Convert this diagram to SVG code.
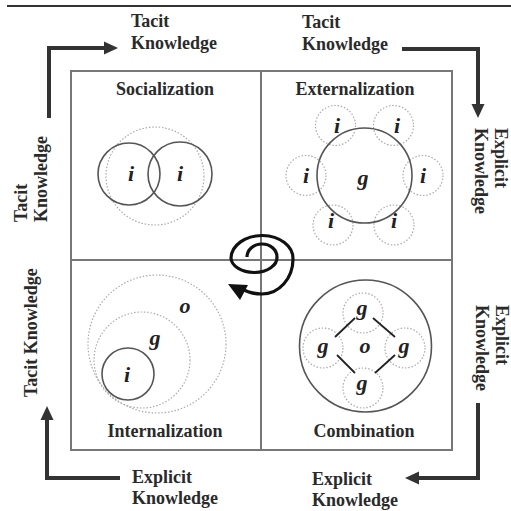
<svg xmlns="http://www.w3.org/2000/svg" width="511" height="511" viewBox="0 0 511 511">
<style>
.lbl{font-family:"Liberation Serif","Times New Roman",serif;font-weight:bold;font-size:18px;fill:#2a2a2a}
.ttl{font-family:"Liberation Serif","Times New Roman",serif;font-weight:bold;font-size:18px;fill:#2a2a2a;text-anchor:middle}
.it{font-family:"Liberation Serif","Times New Roman",serif;font-weight:bold;font-style:italic;font-size:22px;fill:#222;text-anchor:middle}
.solid{fill:none;stroke:#555;stroke-width:1.6}
.dot{fill:none;stroke:#aaa;stroke-width:1.2;stroke-dasharray:1.5 1.8}
.flow{fill:none;stroke:#333;stroke-width:4}
.head{fill:#333}
.grid{fill:none;stroke:#777;stroke-width:2}
</style>
<rect width="511" height="511" fill="#fff"/>
<line x1="7" y1="6" x2="511" y2="6" stroke="#333" stroke-width="2"/>

<g id="frame">
<rect x="71" y="71" width="381" height="379" class="grid"/>
<line x1="261" y1="71" x2="261" y2="450" class="grid"/>
<line x1="71" y1="260" x2="452" y2="260" class="grid"/>
</g>

<g id="connectors">
<path class="flow" d="M49 118 V48 H105"/>
<polygon class="head" points="118,48 104,41.5 104,54.5"/>
<path class="flow" d="M402 49 H478 V105"/>
<polygon class="head" points="478,118 471.5,104 484.5,104"/>
<path class="flow" d="M478 403 V478 H418"/>
<polygon class="head" points="405,478 419,471.5 419,484.5"/>
<path class="flow" d="M120 478 H47 V419"/>
<polygon class="head" points="47,406 40.5,420 53.5,420"/>
</g>

<g id="spiral">
<path fill="none" stroke="#111" stroke-width="3.2" d="M247 257 A15 13 0 0 1 277 257 A23 15 0 0 1 231 258 A31 23 0 0 1 293 259 A31 35 0 0 1 262 294 Q252 294 244 290"/>
<polygon fill="#111" points="228,284 248,285 240,300"/>
</g>

<g id="label-tl">
<text class="lbl" x="131" y="27">Tacit</text>
<text class="lbl" x="131" y="49">Knowledge</text>
</g>
<g id="label-tr">
<text class="lbl" x="302" y="28">Tacit</text>
<text class="lbl" x="302" y="50">Knowledge</text>
</g>
<g id="label-r1" transform="translate(495,128) rotate(90)">
<text class="lbl" x="0" y="0">Explicit</text>
<text class="lbl" x="0" y="20">Knowledge</text>
</g>
<g id="label-r2" transform="translate(496,305) rotate(90)">
<text class="lbl" x="0" y="0">Explicit</text>
<text class="lbl" x="0" y="20">Knowledge</text>
</g>
<g id="label-br">
<text class="lbl" x="312" y="485">Explicit</text>
<text class="lbl" x="312" y="506">Knowledge</text>
</g>
<g id="label-bl">
<text class="lbl" x="132" y="483">Explicit</text>
<text class="lbl" x="132" y="504">Knowledge</text>
</g>
<g id="label-l1" transform="translate(27,222) rotate(-90)">
<text class="lbl" x="0" y="0">Tacit</text>
<text class="lbl" x="0" y="20">Knowledge</text>
</g>
<g id="label-l2" transform="translate(37,397) rotate(-90)">
<text class="lbl" x="0" y="0">Tacit Knowledge</text>
</g>

<g id="socialization">
<text class="ttl" x="165" y="95">Socialization</text>
<circle class="dot" cx="155" cy="176" r="49"/>
<circle class="solid" cx="129" cy="174" r="31"/>
<circle class="solid" cx="180" cy="174" r="32"/>
<text class="it" x="131" y="181">i</text>
<text class="it" x="180" y="181">i</text>
</g>

<g id="externalization">
<text class="ttl" x="355" y="95">Externalization</text>
<circle class="dot" cx="335.5" cy="125.5" r="20"/>
<circle class="dot" cx="393.5" cy="125.5" r="20"/>
<circle class="dot" cx="306" cy="175.5" r="20"/>
<circle class="dot" cx="423" cy="175.5" r="20"/>
<circle class="dot" cx="333" cy="225" r="20"/>
<circle class="dot" cx="394" cy="225" r="20"/>
<circle class="solid" cx="364.5" cy="175.5" r="47.5"/>
<text class="it" x="363" y="185">g</text>
<text class="it" x="337" y="133">i</text>
<text class="it" x="397" y="133">i</text>
<text class="it" x="306" y="183">i</text>
<text class="it" x="423" y="183">i</text>
<text class="it" x="331" y="228">i</text>
<text class="it" x="394" y="228">i</text>
</g>

<g id="internalization">
<text class="ttl" x="165" y="437">Internalization</text>
<circle class="dot" cx="157" cy="344" r="69"/>
<circle class="dot" cx="142" cy="360" r="48"/>
<circle class="solid" cx="128" cy="374" r="26"/>
<text class="it" x="127" y="382">i</text>
<text class="it" x="155" y="345">g</text>
<text class="it" x="185" y="313">o</text>
</g>

<g id="combination">
<text class="ttl" x="364" y="437">Combination</text>
<circle class="solid" cx="365.5" cy="346" r="66"/>
<circle class="dot" cx="363" cy="313" r="20"/>
<circle class="dot" cx="323" cy="348" r="20"/>
<circle class="dot" cx="405" cy="348" r="20"/>
<circle class="dot" cx="363" cy="388" r="20"/>
<g stroke="#222" stroke-width="1.8">
<line x1="335" y1="337" x2="355" y2="318"/>
<line x1="373" y1="318" x2="395" y2="337"/>
<line x1="337" y1="355" x2="355" y2="373"/>
<line x1="375" y1="373" x2="395" y2="355"/>
</g>
<text class="it" x="362" y="315">g</text>
<text class="it" x="323" y="353">g</text>
<text class="it" x="404" y="353">g</text>
<text class="it" x="362" y="390">g</text>
<text class="it" x="365" y="353">o</text>
</g>
</svg>
